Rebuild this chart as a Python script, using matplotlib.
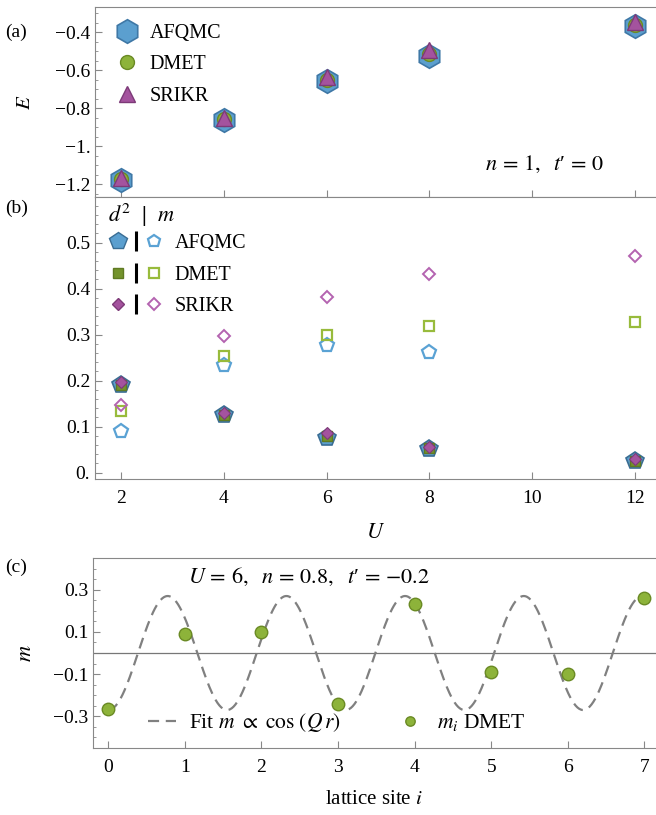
import numpy as np
import matplotlib
matplotlib.use('Agg')
import matplotlib.pyplot as plt
from matplotlib.lines import Line2D
from matplotlib.legend_handler import HandlerTuple
from matplotlib.ticker import MultipleLocator, FixedLocator, FixedFormatter

plt.rcParams['font.family'] = ['Liberation Serif', 'DejaVu Serif']
plt.rcParams['mathtext.fontset'] = 'stix'
plt.rcParams['font.size'] = 14

# --- data ---
U = [2, 4, 6, 8, 12]
E_afqmc = [-1.176, -0.860, -0.657, -0.524, -0.370]
E_dmet = [-1.174, -0.857, -0.650, -0.518, -0.365]
E_srikr = [-1.168, -0.853, -0.638, -0.497, -0.345]

d2_afqmc = [0.190, 0.124, 0.075, 0.051, 0.024]
d2_dmet = [0.190, 0.126, 0.079, 0.053, 0.026]
d2_srikr = [0.197, 0.130, 0.085, 0.056, 0.029]
U_m_afqmc = [2, 4, 6, 8]
m_afqmc = [0.091, 0.234, 0.278, 0.262]
m_dmet = [0.134, 0.253, 0.298, 0.319, 0.328]
m_srikr = [0.146, 0.296, 0.382, 0.432, 0.470]

sites = [0, 1, 2, 3, 4, 5, 6, 7]
m_sites = [-0.264, 0.090, 0.101, -0.240, 0.232, -0.090, -0.100, 0.263]
fit_amp = -0.27
fit_period = 1.55

E_ticks = [-1.2, -1.0, -0.8, -0.6, -0.4]
E_ticklabels = ['\u22121.2', '\u22121.', '\u22120.8', '\u22120.6', '\u22120.4']
b_ticks = [0.0, 0.1, 0.2, 0.3, 0.4, 0.5]
b_ticklabels = ['0.', '0.1', '0.2', '0.3', '0.4', '0.5']
c_ticks = [-0.3, -0.1, 0.1, 0.3]
c_ticklabels = ['\u22120.3', '\u22120.1', '0.1', '0.3']

# colors
blue_f, blue_e = '#5b9fcf', '#3f78a6'
green_f, green_e = '#8db33a', '#6a8a24'
purp_f, purp_e = '#a4539e', '#7d3a78'
blue_o, green_o, purp_o = '#5aa2d4', '#98bb3c', '#b463b0'
dark_green = '#74932c'
gray = '#888888'

fig = plt.figure(figsize=(6.56, 8.15), dpi=100)
axa = fig.add_axes([0.1448, 0.7583, 0.855, 0.2325])
axb = fig.add_axes([0.1448, 0.4123, 0.855, 0.346])
axc = fig.add_axes([0.1418, 0.0822, 0.858, 0.2331])


def style(ax):
    for s in ['left', 'bottom', 'top']:
        ax.spines[s].set_color(gray)
    ax.spines['right'].set_visible(False)
    ax.tick_params(which='both', direction='in', color=gray, top=False, right=False)
    ax.tick_params(which='major', length=5)
    ax.tick_params(which='minor', length=2.5)


# (a)
axa.plot(U, E_afqmc, 'h', ms=17, mfc=blue_f, mec=blue_e, mew=1.2, ls='none', label='AFQMC')
axa.plot(U, E_dmet, 'o', ms=10, mfc=green_f, mec=green_e, mew=1.0, ls='none', label='DMET')
axa.plot(U, E_srikr, '^', ms=11, mfc=purp_f, mec=purp_e, mew=1.0, ls='none', label='SRIKR')
axa.set_xlim(1.5, 12.4)
axa.set_ylim(-1.267, -0.271)
axa.set_xticks([2, 4, 6, 8, 10, 12])
axa.set_xticklabels([])
axa.yaxis.set_major_locator(FixedLocator(E_ticks))
axa.yaxis.set_major_formatter(FixedFormatter(E_ticklabels))
axa.yaxis.set_minor_locator(MultipleLocator(0.05))
axa.set_ylabel('$E$', labelpad=14, fontsize=15)
axa.legend(loc='center left', bbox_to_anchor=(0.017, 0.697), borderaxespad=0,
           frameon=False, labelspacing=0.62, handlelength=1.4, handletextpad=0.45,
           fontsize=14.5)
axa.text(0.909, 0.169, "$n\\,=\\,1,\\ \\ t$\u2032$\\,=\\,0$", transform=axa.transAxes,
         ha='right', va='center', fontsize=16)
style(axa)

# (b)
axb.plot(U, d2_afqmc, 'p', ms=13, mfc=blue_f, mec='#3a6d94', mew=1.2, ls='none')
axb.plot(U, d2_dmet, 's', ms=7.5, mfc=dark_green, mec='#5f7a22', mew=1.0, ls='none')
axb.plot(U, d2_srikr, 'D', ms=6, mfc=purp_f, mec=purp_e, mew=0.8, ls='none')
axb.plot(U_m_afqmc, m_afqmc, 'p', ms=10, mfc='none', mec=blue_o, mew=1.6, ls='none')
axb.plot(U, m_dmet, 's', ms=7.5, mfc='none', mec=green_o, mew=1.6, ls='none')
axb.plot(U, m_srikr, 'D', ms=6, mfc='none', mec=purp_o, mew=1.4, ls='none')
axb.set_xlim(1.5, 12.4)
axb.set_ylim(-0.014, 0.599)
axb.set_xticks([2, 4, 6, 8, 10, 12])
axb.yaxis.set_major_locator(FixedLocator(b_ticks))
axb.yaxis.set_major_formatter(FixedFormatter(b_ticklabels))
axb.yaxis.set_minor_locator(MultipleLocator(0.02))
axb.set_xlabel('$U$', labelpad=12, fontsize=16)
axb.tick_params(axis='x', pad=8)

bar = Line2D([], [], marker='|', ms=14, mew=2.2, color='black', ls='none')
h1 = (Line2D([], [], marker='p', ms=13, mfc=blue_f, mec='#3a6d94', ls='none'), bar,
      Line2D([], [], marker='p', ms=9, mfc='none', mec=blue_o, mew=1.6, ls='none'))
h2 = (Line2D([], [], marker='s', ms=7.5, mfc=dark_green, mec='#5f7a22', ls='none'), bar,
      Line2D([], [], marker='s', ms=7.5, mfc='none', mec=green_o, mew=1.6, ls='none'))
h3 = (Line2D([], [], marker='D', ms=6, mfc=purp_f, mec=purp_e, ls='none'), bar,
      Line2D([], [], marker='D', ms=6, mfc='none', mec=purp_o, mew=1.4, ls='none'))
axb.legend([h1, h2, h3], ['AFQMC', 'DMET', 'SRIKR'],
           handler_map={tuple: HandlerTuple(ndivide=None, pad=0.2)},
           loc='center left', bbox_to_anchor=(0.014, 0.723), borderaxespad=0,
           frameon=False, handlelength=2.5, labelspacing=0.62, handletextpad=0.65,
           fontsize=14.5)
axb.text(0.023, 0.936, '$d^2$  |  $m$', transform=axb.transAxes,
         ha='left', va='center', fontsize=16, fontweight='bold')
style(axb)

# (c)
r = np.linspace(0, 7, 600)
axc.axhline(0, color='#777777', lw=0.9)
axc.plot(r, fit_amp * np.cos(2 * np.pi / fit_period * r), color='#808080', lw=1.6,
         dashes=(5, 3), label=r'Fit $m\ \propto\ \cos\,(Q\,r)$')
axc.plot(sites, m_sites, 'o', ms=9, mfc=green_f, mec=green_e, mew=1.0, ls='none',
         label=r'$m_i$ DMET')
axc.set_xlim(-0.2, 7.15)
axc.set_ylim(-0.45, 0.45)
axc.set_xticks(sites)
axc.yaxis.set_major_locator(FixedLocator(c_ticks))
axc.yaxis.set_major_formatter(FixedFormatter(c_ticklabels))
axc.yaxis.set_minor_locator(MultipleLocator(0.05))
axc.set_ylabel('$m$', labelpad=12, fontsize=16)
axc.set_xlabel('lattice site $i$', labelpad=10, fontsize=15)
axc.tick_params(axis='x', pad=8)
axc.legend(loc='center left', bbox_to_anchor=(0.082, 0.132), borderaxespad=0, ncol=2,
           frameon=False, columnspacing=2.6, handlelength=1.3, handletextpad=0.6,
           markerscale=0.75, fontsize=15.5)
axc.text(0.169, 0.9, "$U\\,=\\,6,\\ \\ n\\,=\\,0.8,\\ \\ t$\u2032$\\,=\\,{-}0.2$",
         transform=axc.transAxes, ha='left', va='center', fontsize=16)
style(axc)

fig.text(5 / 656, 1 - 32 / 815, '(a)', va='center', fontsize=14)
fig.text(5 / 656, 1 - 208 / 815, '(b)', va='center', fontsize=14)
fig.text(5 / 656, 1 - 567 / 815, '(c)', va='center', fontsize=14)

fig.savefig('out.png', dpi=100)
